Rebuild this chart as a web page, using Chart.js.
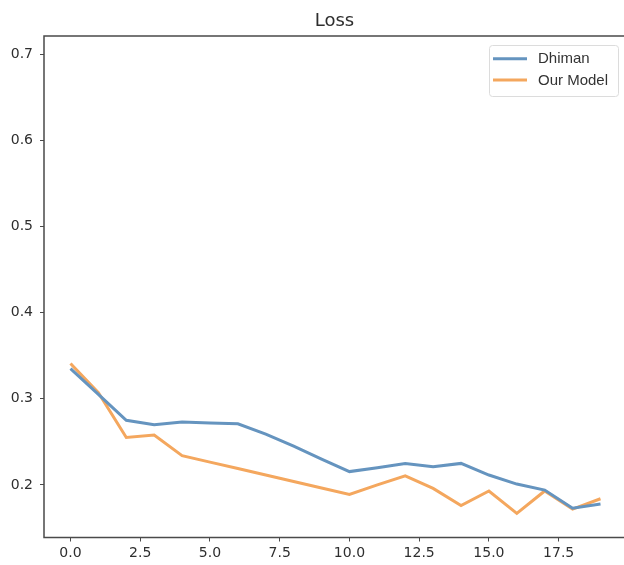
<!DOCTYPE html>
<html>
<head>
<meta charset="utf-8">
<script src="https://cdn.jsdelivr.net/npm/chart.js@4/dist/chart.umd.min.js"></script>
<style>
  html, body { margin: 0; padding: 0; background: #fff; overflow: hidden; width: 624px; height: 565px; }
  #wrap { position: relative; width: 640px; height: 565px; }
</style>
</head>
<body>
<div id="wrap"><canvas id="c"></canvas></div>
<script>
const titleText = 'Loss';
const epochs = [0,1,2,3,4,5,6,7,8,9,10,11,12,13,14,15,16,17,18,19];
const dhiman = [0.335,0.305,0.275,0.270,0.273,0.272,0.271,0.259,0.245,0.230,0.2155,0.220,0.225,0.221,0.225,0.2115,0.201,0.194,0.173,0.178];
const ourModel = [0.341,0.307,0.255,0.258,0.234,0.2265,0.219,0.2115,0.204,0.1965,0.189,0.200,0.2105,0.196,0.176,0.193,0.167,0.193,0.172,0.184];
const seriesNames = ['Dhiman','Our Model'];
const seriesColors = ['#6594bf','#f4a75e'];
const xTicks = [0,2.5,5,7.5,10,12.5,15,17.5];
const yTicks = [0.2,0.3,0.4,0.5,0.6,0.7];

const axisColor = '#4a4a4a';

const framePlugin = {
  id: 'frame',
  afterDraw(chart) {
    const ctx = chart.ctx, a = chart.chartArea;
    ctx.save();
    ctx.strokeStyle = axisColor;
    ctx.lineWidth = 1.5;
    ctx.strokeRect(a.left, a.top, a.right - a.left, a.bottom - a.top);
    // title
    ctx.fillStyle = '#2e2e2e';
    ctx.font = '18px "DejaVu Sans"';
    ctx.textAlign = 'center';
    ctx.textBaseline = 'middle';
    ctx.fillText(titleText, (a.left + a.right) / 2 - 1, 21);
    // legend
    const bx = 489, by = 45, bw = 129, bh = 51;
    ctx.fillStyle = 'rgba(255,255,255,0.85)';
    ctx.strokeStyle = '#dcdcdc';
    ctx.lineWidth = 1;
    ctx.beginPath();
    ctx.roundRect(bx + 0.5, by + 0.5, bw, bh, 3);
    ctx.fill();
    ctx.stroke();
    ctx.font = '15px "Liberation Sans", Arial, sans-serif';
    ctx.textAlign = 'left';
    ctx.textBaseline = 'middle';
    const rows = [58.7, 80];
    chart.data.datasets.forEach((ds, i) => {
      ctx.strokeStyle = ds.borderColor;
      ctx.lineWidth = 3;
      ctx.beginPath();
      ctx.moveTo(493, rows[i]);
      ctx.lineTo(527, rows[i]);
      ctx.stroke();
      ctx.fillStyle = '#333';
      ctx.fillText(ds.label, 538, rows[i] + 0.5);
    });
    ctx.restore();
  }
};

new Chart(document.getElementById('c'), {
  type: 'line',
  data: {
    datasets: [
      { label: seriesNames[0], data: epochs.map((x, i) => ({x, y: dhiman[i]})), borderColor: seriesColors[0], borderWidth: 3, pointRadius: 0, tension: 0, fill: false },
      { label: seriesNames[1], data: epochs.map((x, i) => ({x, y: ourModel[i]})), borderColor: seriesColors[1], borderWidth: 3, pointRadius: 0, tension: 0, fill: false }
    ]
  },
  options: {
    responsive: true,
    maintainAspectRatio: false,
    animation: false,
    layout: { padding: { left: 0, top: 36, right: 13, bottom: 0 } },
    plugins: { legend: { display: false }, title: { display: false }, tooltip: { enabled: false } },
    scales: {
      x: {
        type: 'linear',
        min: -0.95, max: 19.95,
        afterBuildTicks: s => { s.ticks = xTicks.map(v => ({value: v})); },
        afterFit: s => { s.height = 27.5; },
        grid: { display: true, drawOnChartArea: false, drawTicks: true, tickLength: 4, color: axisColor, lineWidth: 1 },
        border: { display: false },
        ticks: { color: '#2e2e2e', font: { family: 'DejaVu Sans', size: 14 }, padding: 3, maxRotation: 0, autoSkip: false, callback: v => Number(v).toFixed(1) }
      },
      y: {
        type: 'linear',
        min: 0.139, max: 0.721,
        afterBuildTicks: s => { s.ticks = yTicks.map(v => ({value: v})); },
        afterFit: s => { s.width = 44; },
        grid: { display: true, drawOnChartArea: false, drawTicks: true, tickLength: 4, color: axisColor, lineWidth: 1 },
        border: { display: false },
        ticks: { color: '#2e2e2e', font: { family: 'DejaVu Sans', size: 14 }, padding: 7, autoSkip: false, callback: v => Number(v).toFixed(1) }
      }
    }
  },
  plugins: [framePlugin]
});
</script>
</body>
</html>
